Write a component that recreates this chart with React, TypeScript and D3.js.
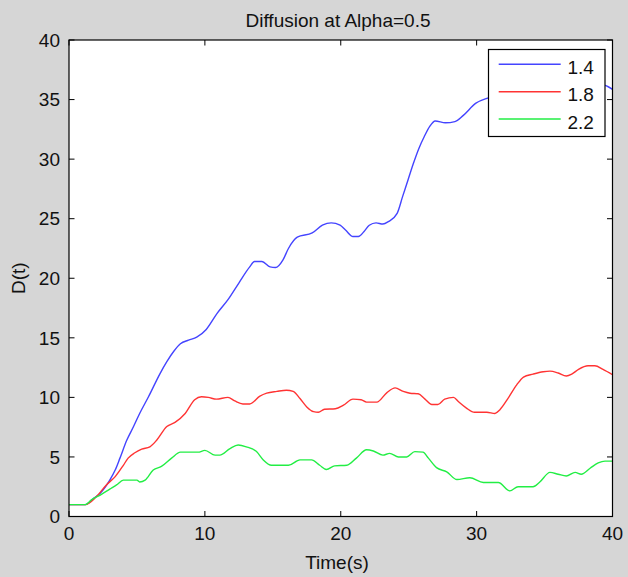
import React from "react";
import * as d3 from "d3";

const title = "Diffusion at Alpha=0.5";
const xLabel = "Time(s)";
const yLabel = "D(t)";
const xTicks = [0, 10, 20, 30, 40];
const yTicks = [0, 5, 10, 15, 20, 25, 30, 35, 40];
const legendLabels = ["1.4", "1.8", "2.2"];
const seriesColors = ["#4444ff", "#ff3333", "#22ee44"];

const blueT = [0, 1.2, 1.8, 2.3, 3.0, 3.4, 3.75, 4.25, 4.75, 5.2, 5.85, 6.7, 7.2, 7.7, 8.2, 8.8, 9.4, 10.1, 10.9, 11.7, 12.5, 13.3, 13.65, 14.2, 14.8, 15.2, 15.75, 16.15, 16.8, 17.9, 18.65, 19.3, 19.95, 20.35, 20.9, 21.3, 21.7, 22.1, 22.6, 23.1, 23.5, 24.15, 24.55, 24.95, 25.35, 25.75, 26.15, 26.55, 26.95, 27.7, 28.4, 29.0, 29.95, 30.75, 32, 34, 36, 38, 39.4, 40];
const blueV = [1, 1, 1.5, 1.95, 3.05, 3.9, 4.9, 6.4, 7.55, 8.65, 10.05, 12.0, 13.0, 13.85, 14.5, 14.8, 15.05, 15.7, 17.05, 18.2, 19.6, 20.95, 21.4, 21.4, 20.95, 20.9, 21.55, 22.5, 23.45, 23.8, 24.45, 24.65, 24.45, 24.05, 23.5, 23.5, 23.9, 24.45, 24.65, 24.55, 24.75, 25.45, 26.85, 28.25, 29.65, 30.9, 31.9, 32.75, 33.2, 33.05, 33.15, 33.65, 34.7, 35.1, 35.4, 35.7, 36.0, 36.3, 36.2, 35.85];

const redT = [0, 1.2, 2.0, 2.75, 3.4, 4.0, 4.35, 4.85, 5.35, 5.95, 6.45, 7.2, 7.8, 8.55, 9.25, 9.75, 10.25, 10.85, 11.7, 12.2, 12.8, 13.3, 14.05, 14.55, 15.3, 16.0, 16.5, 17.0, 17.5, 18.0, 18.35, 18.8, 19.6, 20.2, 20.9, 21.5, 21.9, 22.65, 23.4, 24.0, 24.6, 25.1, 25.7, 26.2, 26.7, 27.15, 27.65, 28.3, 28.65, 29.25, 29.85, 30.75, 31.35, 31.7, 32.3, 32.95, 33.45, 34.15, 34.9, 35.4, 36.0, 36.6, 37.0, 37.5, 38.2, 38.7, 39.3, 40];
const redV = [1, 1, 1.65, 2.65, 3.35, 4.3, 4.9, 5.35, 5.65, 5.85, 6.4, 7.55, 7.9, 8.65, 9.8, 10.05, 10.0, 9.85, 10.0, 9.7, 9.45, 9.45, 10.1, 10.35, 10.5, 10.6, 10.5, 9.9, 9.2, 8.8, 8.75, 9.0, 9.05, 9.35, 9.85, 9.8, 9.6, 9.6, 10.4, 10.8, 10.5, 10.35, 10.3, 9.85, 9.4, 9.4, 9.85, 10.0, 9.65, 9.1, 8.75, 8.75, 8.65, 8.95, 9.9, 11.05, 11.7, 11.95, 12.15, 12.2, 12.05, 11.8, 11.95, 12.35, 12.65, 12.65, 12.35, 11.9];

const greenT = [0, 1.2, 1.65, 2.3, 3.0, 3.5, 4.0, 4.5, 5.0, 5.2, 5.6, 6.2, 6.8, 7.55, 8.2, 9.5, 10.0, 10.75, 11.1, 11.85, 12.45, 13.05, 13.8, 14.3, 14.9, 16.15, 17.0, 17.85, 18.45, 18.95, 19.55, 20.45, 21.15, 21.9, 22.4, 23.1, 23.6, 24.25, 24.85, 25.45, 26.05, 26.45, 27.05, 27.8, 28.55, 29.5, 30.5, 31.6, 32.45, 33.05, 34.15, 34.65, 35.4, 36.0, 36.6, 37.25, 37.7, 38.35, 38.95, 39.45, 40];
const greenV = [1, 1, 1.4, 1.8, 2.3, 2.65, 3.05, 3.05, 3.05, 2.9, 3.05, 3.9, 4.2, 4.9, 5.4, 5.4, 5.55, 5.15, 5.15, 5.7, 6.0, 5.85, 5.45, 4.75, 4.3, 4.3, 4.75, 4.75, 4.3, 3.95, 4.25, 4.3, 4.9, 5.6, 5.5, 5.15, 5.3, 5.0, 5.0, 5.45, 5.4, 4.9, 4.1, 3.75, 3.1, 3.25, 2.85, 2.85, 2.15, 2.5, 2.5, 2.9, 3.7, 3.55, 3.4, 3.7, 3.55, 4.05, 4.5, 4.65, 4.65];

const W = 628;
const H = 577;
const L = 69, R = 612.5, T = 40, B = 516.5;
const FONT = "'Liberation Sans', Arial, sans-serif";

export default function App() {
  const x = d3.scaleLinear().domain([0, 40]).range([L, R]);
  const y = d3.scaleLinear().domain([0, 40]).range([B, T]);
  const line = d3
    .line<[number, number]>()
    .x((d) => x(d[0]))
    .y((d) => y(d[1]))
    .curve(d3.curveMonotoneX);
  const series = [
    { t: blueT, v: blueV },
    { t: redT, v: redV },
    { t: greenT, v: greenV },
  ];
  const tickLen = 5.5;
  const legX0 = 488.5, legY0 = 49.5, legW = 116.5, legH = 87;
  const legLineY = [64.3, 91.7, 119];

  return (
    <svg
      width={W}
      height={H}
      style={{ position: "absolute", left: 0, top: 0, display: "block" }}
      fontFamily={FONT}
    >
      <rect x={0} y={0} width={W} height={H} fill="#d6d6d6" />
      <rect x={L} y={T} width={R - L} height={B - T} fill="#ffffff" />
      <text x={338} y={27} fontSize={19} textAnchor="middle" fill="#111">
        {title}
      </text>
      <g clipPath="url(#plotclip)">
        <defs>
          <clipPath id="plotclip">
            <rect x={L} y={T} width={R - L} height={B - T} />
          </clipPath>
        </defs>
        {series.map((s, i) => (
          <path
            key={i}
            d={line(s.t.map((t, j) => [t, s.v[j]] as [number, number])) || ""}
            fill="none"
            stroke={seriesColors[i]}
            strokeWidth={1.4}
          />
        ))}
      </g>
      {/* ticks */}
      {xTicks.map((t) => (
        <g key={"x" + t}>
          <line x1={x(t)} x2={x(t)} y1={B} y2={B - tickLen} stroke="#000" />
          <line x1={x(t)} x2={x(t)} y1={T} y2={T + tickLen} stroke="#000" />
          <text x={x(t)} y={B + 23.5} fontSize={19} textAnchor="middle" fill="#111">
            {t}
          </text>
        </g>
      ))}
      {yTicks.map((t) => (
        <g key={"y" + t}>
          <line x1={L} x2={L + tickLen} y1={y(t)} y2={y(t)} stroke="#000" />
          <line x1={R} x2={R - tickLen} y1={y(t)} y2={y(t)} stroke="#000" />
          <text x={60} y={y(t) + 6.8} fontSize={19} textAnchor="end" fill="#111">
            {t}
          </text>
        </g>
      ))}
      <rect x={L} y={T} width={R - L} height={B - T} fill="none" stroke="#000" strokeWidth={1.2} />
      <text x={337} y={569} fontSize={19} textAnchor="middle" fill="#111">
        {xLabel}
      </text>
      <text
        transform={`translate(24.5,${(T + B) / 2}) rotate(-90)`}
        fontSize={19}
        textAnchor="middle"
        fill="#111"
      >
        {yLabel}
      </text>
      {/* legend */}
      <rect x={legX0} y={legY0} width={legW} height={legH} fill="#fff" stroke="#000" strokeWidth={1.2} />
      {legendLabels.map((lab, i) => (
        <g key={lab}>
          <line x1={498.7} x2={560.7} y1={legLineY[i]} y2={legLineY[i]} stroke={seriesColors[i]} strokeWidth={1.4} />
          <text x={567.5} y={legLineY[i] + 9.5} fontSize={19} fill="#111">
            {lab}
          </text>
        </g>
      ))}
    </svg>
  );
}
